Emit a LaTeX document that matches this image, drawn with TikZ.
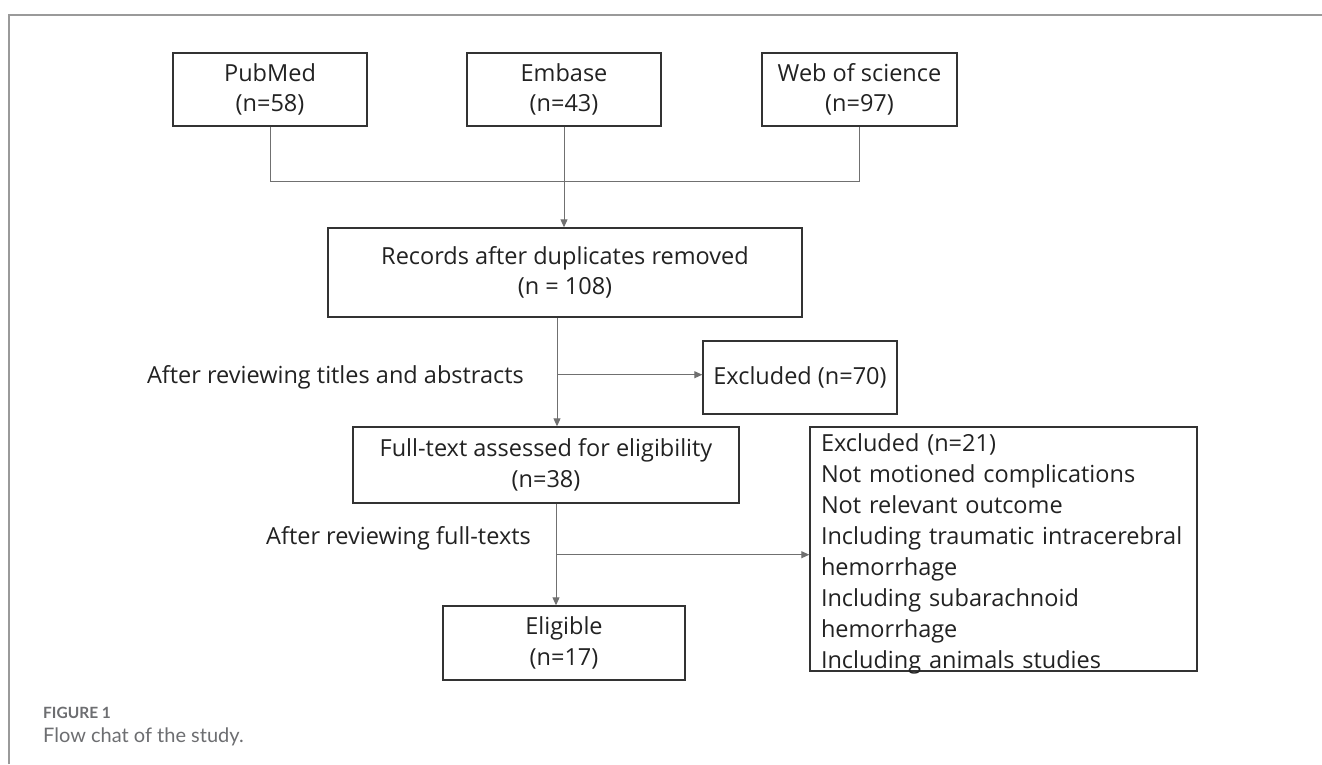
\documentclass[tikz,border=0pt]{standalone}
\usepackage{fontspec}
\setmainfont{Open Sans}
\newfontfamily\capfont{Lato}
\usetikzlibrary{arrows.meta,calc}
\definecolor{boxline}{HTML}{333333}
\definecolor{connline}{HTML}{707070}
\definecolor{framegray}{HTML}{9A9A9A}
\definecolor{capgray}{HTML}{6D6E71}
\definecolor{txt}{HTML}{222222}
\begin{document}
\begin{tikzpicture}[x=1pt,y=-1pt,
  box/.style={draw=boxline,line width=1.4pt,inner sep=0pt,align=center,
    font=\fontsize{23.5}{30.5}\selectfont,text=txt},
  conn/.style={draw=connline,line width=1pt},
  arr/.style={conn,-{Triangle[length=8pt,width=7pt]}},
  lbl/.style={font=\fontsize{23.5}{30.5}\selectfont,inner sep=0pt,text=txt},
  captitle/.style={inner sep=0pt,text=capgray,font=\capfont\bfseries\fontsize{15.5}{18}\selectfont},
  captext/.style={inner sep=0pt,text=capgray,font=\capfont\fontsize{20}{23}\selectfont},
]
\useasboundingbox[fill=white] (0,0) rectangle (1322,764);
\draw[framegray,line width=2pt] (9,764) -- (9,15) -- (1322,15);

% source boxes
\node[box,minimum width=194pt,minimum height=73pt] (pub) at (270,89.5) {PubMed\\(n=58)};
\node[box,minimum width=194pt,minimum height=73pt] (emb) at (564,89.5) {Embase\\(n=43)};
\node[box,minimum width=195pt,minimum height=73pt] (web) at (859.5,89.5) {Web of science\\(n=97)};

% main flow
\node[box,minimum width=474pt,minimum height=89pt] (rec) at (565,272.5) {Records after duplicates removed\\(n = 108)};
\node[box,minimum width=194pt,minimum height=73pt] (ex1) at (800,377.5) {Excluded (n=70)};
\node[box,minimum width=386pt,minimum height=76pt] (ft) at (546,465) {Full-text assessed for eligibility\\(n=38)};
\node[box,minimum width=242pt,minimum height=74pt] (eli) at (564,643) {Eligible\\(n=17)};
\node[box,align=left,text width=365pt,inner xsep=11pt,inner ysep=0pt,
  text height=24pt,text depth=220pt,minimum height=244pt,
  font=\fontsize{23.5}{31}\selectfont] (ex2) at (1003.5,549)
  {Excluded (n=21)\\Not motioned complications\\Not relevant outcome\\Including traumatic intracerebral\\hemorrhage\\Including subarachnoid\\hemorrhage\\Including animals studies};

% connectors
\draw[conn] (pub.south) -- ++(0,55) -| (web.south);
\draw[arr] (emb.south) -- (emb.south |- rec.north);
\coordinate (r1) at ([xshift=-8pt]rec.south);
\draw[arr] (r1) -- (r1 |- ft.north);
\coordinate (b1) at ($(r1)+(0,57)$);
\draw[arr] (b1) -- (b1 -| ex1.west);
\coordinate (f1) at ([xshift=10pt]ft.south);
\draw[arr] (f1) -- (f1 |- eli.north);
\coordinate (b2) at ($(f1)+(0,51)$);
\draw[arr] (b2) -- (b2 -| ex2.west);

% side labels
\node[lbl,anchor=base east] (l1) at (524,383) {After reviewing titles and abstracts};
\node[lbl,anchor=base east] (l2) at (531,544) {After reviewing full-texts};

% caption
\node[captitle,anchor=base west] (fig) at (43,718) {FIGURE 1};
\node[captext,anchor=base west] (cap) at (43,742) {Flow chat of the study.};
\end{tikzpicture}
\end{document}
